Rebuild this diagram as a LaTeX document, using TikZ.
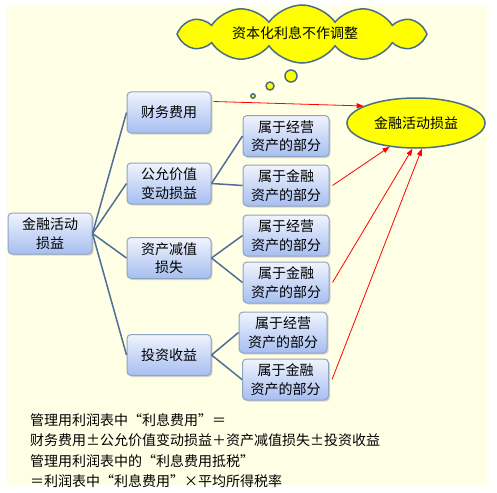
\documentclass[tikz,border=0pt]{standalone}
\usepackage{fontspec}
\setmainfont{Noto Sans CJK SC}
\usetikzlibrary{arrows.meta, shapes.geometric, shapes.symbols, shadows}
\definecolor{cbg}{HTML}{FFFFE6}
\definecolor{cline}{HTML}{4F6F99}
\definecolor{cbord}{HTML}{8FA3C4}
\definecolor{ctop}{HTML}{F0F4FD}
\definecolor{cbot}{HTML}{A6BEF0}
\definecolor{cyel}{HTML}{FFFF00}
\definecolor{cedge}{HTML}{4A6E86}
\tikzset{
  every picture/.style={x=1pt, y=-1pt, font=\fontsize{14}{18.5}\selectfont},
  box/.style={draw=cbord, line width=1pt, rounded corners=4pt, top color=ctop, bottom color=cbot,
    align=center, minimum width=84pt, minimum height=41pt, inner sep=2pt,
    drop shadow={shadow xshift=1.5pt, shadow yshift=-1.5pt, opacity=0.3}},
  subbox/.style={box, minimum width=86pt},
  link/.style={draw=cline, line width=1.5pt},
  hot/.style={-{Triangle[length=7pt, width=5pt]}, draw=red, line width=0.8pt},
  blob/.style={fill=cyel, draw=cedge, line width=1.5pt},
  note/.style={anchor=north west, align=left, inner sep=0pt, font=\fontsize{14}{20.5}\selectfont},
}

\begin{document}
\begin{tikzpicture}
  \useasboundingbox (0,0) rectangle (497,492);
  \fill[cbg] (7,5) rectangle (487,485);
  % thought cloud
  \node[blob, cloud, cloud puffs=12, cloud puff arc=110, aspect=4.6, minimum width=250pt, minimum height=58pt, inner sep=0pt] (cloud) at (302,34) {};
  \node (cloudtxt) at (295,33) {资本化利息不作调整};
  \draw[blob] (253,96) circle (2.2pt);
  \draw[blob] (270,86) circle (4pt);
  \draw[blob] (291,76) circle (6pt);
  % target
  \node[blob, ellipse, minimum width=138pt, minimum height=50pt, inner sep=0pt] (ell) at (416,123) {金融活动损益};
  % tree
  \node[box] (root) at (50,233.5) {金融活动\\损益};
  \node[box] (cw) at (169,112.5) {财务费用};
  \node[box] (gy) at (169,183.5) {公允价值\\变动损益};
  \node[box] (zc) at (169,258) {资产减值\\损失};
  \node[box] (tz) at (169,355) {投资收益};
  \node[subbox] (op1) at (286,136) {属于经营\\资产的部分};
  \node[subbox] (fi1) at (286,185.5) {属于金融\\资产的部分};
  \node[subbox] (op2) at (286,235.5) {属于经营\\资产的部分};
  \node[subbox] (fi2) at (286,282.5) {属于金融\\资产的部分};
  \node[subbox, minimum width=88pt] (op3) at (283,332.5) {属于经营\\资产的部分};
  \node[subbox] (fi3) at (285.5,379.5) {属于金融\\资产的部分};
  \foreach \b in {cw, gy, zc, tz}
    \draw[link] (root.east) -- (\b.west);
  \draw[link] (gy.east) -- (op1.west);
  \draw[link] (gy.east) -- (fi1.west);
  \draw[link] (zc.east) -- (op2.west);
  \draw[link] (zc.east) -- (fi2.west);
  \draw[link] (tz.east) -- (op3.west);
  \draw[link] (tz.east) -- (fi3.west);
  % red flows into the ellipse
  \draw[hot] ([xshift=2pt, yshift=11pt]cw.east) -- (ell.162);
  \draw[hot] ([xshift=3pt]fi1.east) -- (ell.222);
  \draw[hot] ([xshift=3pt]fi2.east) -- (ell.262);
  \draw[hot] ([xshift=3pt]fi3.east) -- (ell.283);
  % formulas
  \node[note] (memo) at (30,413) {管理用利润表中“利息费用”＝\\
    财务费用±公允价值变动损益＋资产减值损失±投资收益\\
    管理用利润表中的“利息费用抵税”\\
    ＝利润表中“利息费用”×平均所得税率};
\end{tikzpicture}
\end{document}
